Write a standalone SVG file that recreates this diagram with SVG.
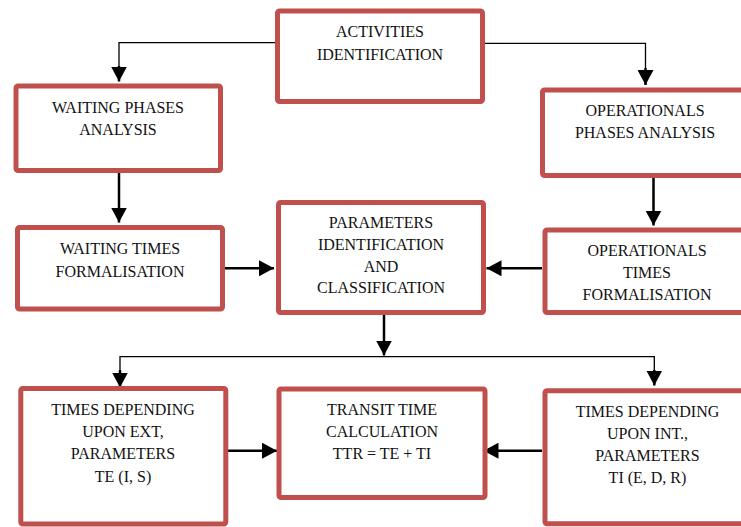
<svg xmlns="http://www.w3.org/2000/svg" width="741" height="527" viewBox="0 0 741 527">
<defs>
<style>
.box{fill:#fff;stroke:#C0504D;stroke-width:5;}
.t{font-size:16px;fill:#111;text-anchor:middle;}
.c{fill:none;stroke:#000;stroke-width:2.5;}
.thin{fill:none;stroke:#000;stroke-width:1.3;}
</style>
<marker id="ah" markerWidth="16" markerHeight="16" viewBox="0 0 16 16" refX="15" refY="8" orient="auto" markerUnits="userSpaceOnUse">
<path d="M0,0 L15,8 L0,16 Z" fill="#000"/>
</marker>
</defs>
<rect width="741" height="527" fill="#fff"/>
<g id="connectors">
<polyline class="thin" points="277,42.7 119,42.7 119,66"/>
<path class="c" d="M119,66 L119,81.5" marker-end="url(#ah)"/>
<polyline class="thin" points="483,43.3 645.5,43.3 645.5,68"/>
<path class="c" d="M645.5,68 L645.5,85" marker-end="url(#ah)"/>
<path class="c" d="M119,173 L119,222.5" marker-end="url(#ah)"/>
<path class="c" d="M653.5,178 L653.5,225.5" marker-end="url(#ah)"/>
<path class="c" d="M225,268.3 L274,268.3" marker-end="url(#ah)"/>
<path class="c" d="M542,268.3 L486.5,268.3" marker-end="url(#ah)"/>
<path class="c" d="M384,315 L384,355.5" marker-end="url(#ah)"/>
<polyline class="thin" points="120,372 120,356.7 654.3,356.7 654.3,372"/>
<path class="c" d="M120,370 L120,387.5" marker-end="url(#ah)"/>
<path class="c" d="M654.3,370 L654.3,385.5" marker-end="url(#ah)"/>
<path class="c" d="M228,450.7 L277,450.7" marker-end="url(#ah)"/>
<path class="c" d="M542,450.7 L483.5,450.7" marker-end="url(#ah)"/>
</g>
<g font-family="Liberation Serif, Times New Roman, DejaVu Serif, serif">
<g id="activities">
<rect class="box" x="277.5" y="11" width="205" height="90.5" rx="2"/>
<text class="t" x="380" y="37.3">ACTIVITIES</text>
<text class="t" x="380" y="60">IDENTIFICATION</text>
</g>
<g id="waiting-phases">
<rect class="box" x="16" y="86" width="204.5" height="84.5" rx="2"/>
<text class="t" x="118" y="113.3">WAITING PHASES</text>
<text class="t" x="118" y="135">ANALYSIS</text>
</g>
<g id="operational-phases">
<rect class="box" x="542.5" y="90" width="205" height="85.5" rx="2"/>
<text class="t" x="645" y="116">OPERATIONALS</text>
<text class="t" x="645" y="137.7">PHASES ANALYSIS</text>
</g>
<g id="waiting-times">
<rect class="box" x="17.5" y="227.5" width="205" height="81.5" rx="2"/>
<text class="t" x="120" y="254.3">WAITING TIMES</text>
<text class="t" x="120" y="276.7">FORMALISATION</text>
</g>
<g id="parameters">
<rect class="box" x="278.5" y="202.5" width="205" height="110" rx="2"/>
<text class="t" x="381" y="228.3">PARAMETERS</text>
<text class="t" x="381" y="250">IDENTIFICATION</text>
<text class="t" x="381" y="271.7">AND</text>
<text class="t" x="381" y="293.3">CLASSIFICATION</text>
</g>
<g id="operational-times">
<rect class="box" x="545" y="230" width="205" height="82.5" rx="2"/>
<text class="t" x="647" y="256">OPERATIONALS</text>
<text class="t" x="647" y="278.3">TIMES</text>
<text class="t" x="647" y="300">FORMALISATION</text>
</g>
<g id="times-ext">
<rect class="box" x="20.8" y="388.5" width="205" height="135.5" rx="2"/>
<text class="t" x="123" y="415">TIMES DEPENDING</text>
<text class="t" x="123" y="436.7">UPON EXT,</text>
<text class="t" x="123" y="459.3">PARAMETERS</text>
<text class="t" x="123" y="481.7">TE (I, S)</text>
</g>
<g id="transit">
<rect class="box" x="279" y="389" width="206" height="108.5" rx="2"/>
<text class="t" x="382" y="415">TRANSIT TIME</text>
<text class="t" x="382" y="436.7">CALCULATION</text>
<text class="t" x="382" y="459">TTR = TE + TI</text>
</g>
<g id="times-int">
<rect class="box" x="545" y="390.8" width="205" height="133" rx="2"/>
<text class="t" x="647.5" y="416.7">TIMES DEPENDING</text>
<text class="t" x="647.5" y="438.5">UPON INT.,</text>
<text class="t" x="647.5" y="460.7">PARAMETERS</text>
<text class="t" x="647.5" y="482.7">TI (E, D, R)</text>
</g>
</g>
</svg>
